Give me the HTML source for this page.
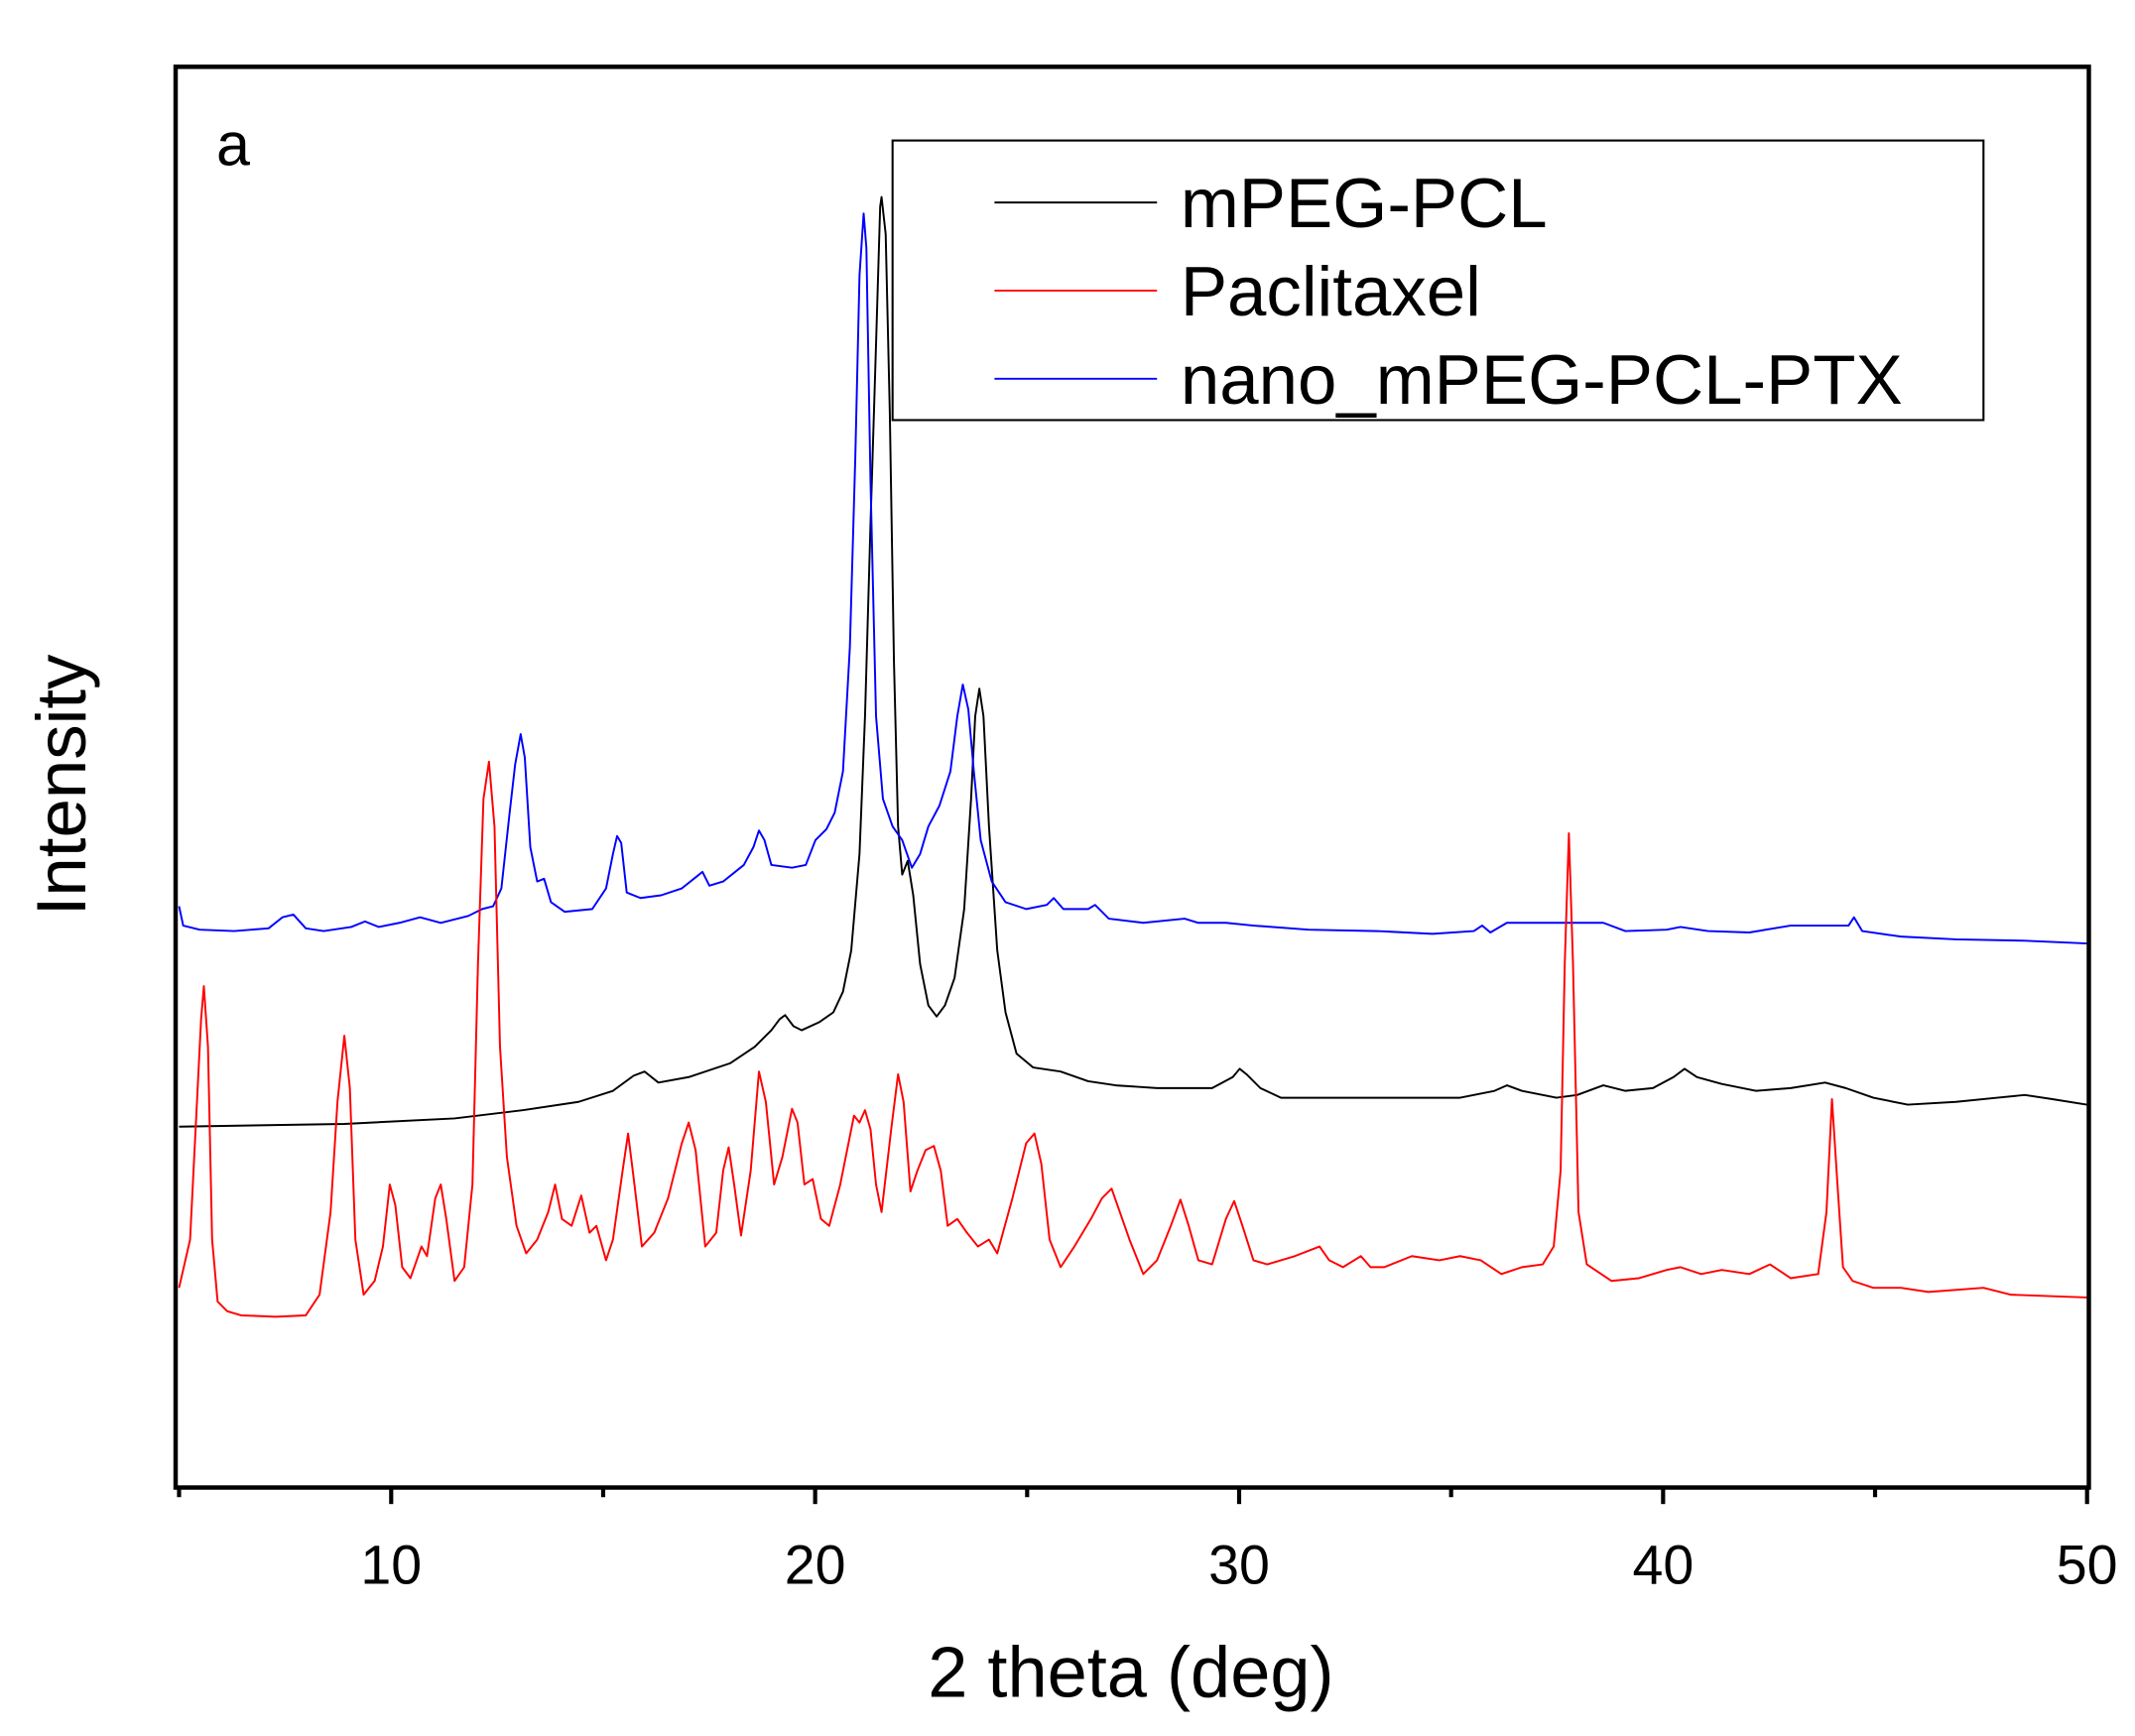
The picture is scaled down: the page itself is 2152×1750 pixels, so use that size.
<!DOCTYPE html>
<html><head><meta charset="utf-8"><style>
html,body{margin:0;padding:0;background:#fff}
svg{display:block}
text{font-family:"Liberation Sans",Arial,sans-serif;fill:#000}
</style></head><body>
<svg width="2152" height="1750" viewBox="0 0 1550 1260.4" preserveAspectRatio="none" xmlns="http://www.w3.org/2000/svg">
<rect x="0" y="0" width="1550" height="1260.4" fill="#fff"/>
<g fill="none" stroke-width="1.4" stroke-linejoin="round">
<polyline stroke="#000" points="130,818 250,816 330,812 380,806 420,800 445,792 460,781 468,778 478,786 500,782 530,772 548,760 560,748 566,740 570,737 576,745 582,748 595,742 605,735 612,720 618,690 624,620 628,520 632,380 636,250 639,150 640,143 643,170 646,300 649,480 652,600 655,635 659,625 663,650 668,700 674,730 680,738 686,730 693,710 700,660 705,580 708,520 711,500 714,520 718,600 724,690 730,735 738,765 750,775 770,778 790,785 810,788 840,790 880,790 895,782 900,776 905,780 915,790 930,797 1000,797 1060,797 1085,792 1094,788 1105,792 1130,797 1145,795 1164,788 1180,792 1200,790 1215,782 1223,776 1232,782 1250,787 1275,792 1300,790 1325,786 1340,790 1360,797 1385,802 1420,800 1450,797 1470,795 1490,798 1515,802"/>
<polyline stroke="#00f" points="130,658 133,672 145,675 170,676 195,674 205,666 213,664 222,674 235,676 255,673 265,669 275,673 290,670 305,666 320,670 340,665 350,660 358,658 364,645 370,590 374,555 378,533 381,550 385,615 390,640 395,638 400,655 410,662 430,660 440,645 445,620 448,607 451,612 455,648 465,652 480,650 495,645 505,637 510,633 515,643 525,640 540,628 547,615 551,603 555,610 560,628 575,630 585,628 592,610 600,602 606,590 612,560 617,470 621,330 624,200 627,155 629,180 632,350 636,520 641,580 648,600 655,610 662,630 668,620 674,600 682,585 690,560 695,520 699,497 703,515 707,560 712,610 720,640 730,655 745,660 760,657 765,652 772,660 790,660 795,657 805,667 830,670 860,667 870,670 890,670 910,672 950,675 1000,676 1040,678 1070,676 1076,672 1082,677 1094,670 1164,670 1180,676 1210,675 1220,673 1240,676 1270,677 1300,672 1342,672 1346,666 1352,676 1380,680 1420,682 1470,683 1515,685"/>
<polyline stroke="#f00" points="130,935 138,900 143,800 146,740 148,716 151,760 154,900 158,945 165,952 175,955 200,956 222,955 232,940 240,880 245,800 250,752 254,790 258,900 264,940 272,930 278,905 283,860 287,875 292,920 298,928 306,905 310,912 316,870 320,860 324,885 330,930 337,920 343,860 347,700 351,580 355,553 359,600 363,760 368,840 375,890 382,910 390,900 398,880 403,860 408,885 415,890 422,868 428,895 433,890 440,915 445,900 452,850 456,823 460,855 466,905 475,895 485,870 495,830 500,815 505,835 512,905 520,895 525,850 529,833 533,860 538,897 545,850 551,778 556,800 562,860 568,840 575,805 579,815 584,860 590,856 596,885 602,890 610,860 616,830 620,810 624,815 628,806 632,820 636,860 640,880 647,820 652,780 656,800 661,865 666,850 672,835 678,832 683,850 688,890 695,885 702,895 710,905 718,900 724,910 735,870 745,830 751,823 756,845 762,900 770,920 780,905 792,885 800,870 807,863 813,880 820,900 830,925 840,915 850,890 857,871 863,890 870,915 880,918 890,885 896,872 902,890 910,915 920,918 940,912 958,905 965,915 975,920 988,912 995,920 1005,920 1025,912 1045,915 1060,912 1075,915 1090,925 1105,920 1120,918 1128,905 1133,850 1136,700 1139,605 1142,700 1146,880 1152,918 1170,930 1190,928 1210,922 1220,920 1235,925 1250,922 1270,925 1285,918 1300,928 1320,925 1326,880 1330,798 1334,860 1338,920 1345,930 1360,935 1380,935 1400,938 1440,935 1460,940 1515,942"/>
</g>
<rect x="127.5" y="48.5" width="1389" height="1031.5" fill="none" stroke="#000" stroke-width="3.2"/>
<g stroke="#000" stroke-width="3">
<line x1="284" y1="1080" x2="284" y2="1092"/>
<line x1="591.8" y1="1080" x2="591.8" y2="1092"/>
<line x1="899.6" y1="1080" x2="899.6" y2="1092"/>
<line x1="1207.4" y1="1080" x2="1207.4" y2="1092"/>
<line x1="1515.2" y1="1080" x2="1515.2" y2="1092"/>
<line x1="130" y1="1080" x2="130" y2="1087"/>
<line x1="437.9" y1="1080" x2="437.9" y2="1087"/>
<line x1="745.7" y1="1080" x2="745.7" y2="1087"/>
<line x1="1053.5" y1="1080" x2="1053.5" y2="1087"/>
<line x1="1361.3" y1="1080" x2="1361.3" y2="1087"/>
</g>
<g font-size="40" text-anchor="middle">
<text x="284" y="1150">10</text>
<text x="591.8" y="1150">20</text>
<text x="899.6" y="1150">30</text>
<text x="1207.4" y="1150">40</text>
<text x="1515.2" y="1150">50</text>
</g>
<text x="821" y="1232" font-size="52" text-anchor="middle">2 theta (deg)</text>
<text transform="translate(62,570) rotate(-90)" font-size="51" text-anchor="middle">Intensity</text>
<text x="157" y="120" font-size="44">a</text>
<rect x="648" y="102" width="792" height="203" fill="none" stroke="#000" stroke-width="1.5"/>
<line x1="722" y1="147" x2="840" y2="147" stroke="#000" stroke-width="1.4"/>
<line x1="722" y1="211" x2="840" y2="211" stroke="#f00" stroke-width="1.4"/>
<line x1="722" y1="275" x2="840" y2="275" stroke="#00f" stroke-width="1.4"/>
<g font-size="51">
<text x="857" y="165">mPEG-PCL</text>
<text x="857" y="229">Paclitaxel</text>
<text x="857" y="293">nano_mPEG-PCL-PTX</text>
</g>
</svg>
</body></html>
